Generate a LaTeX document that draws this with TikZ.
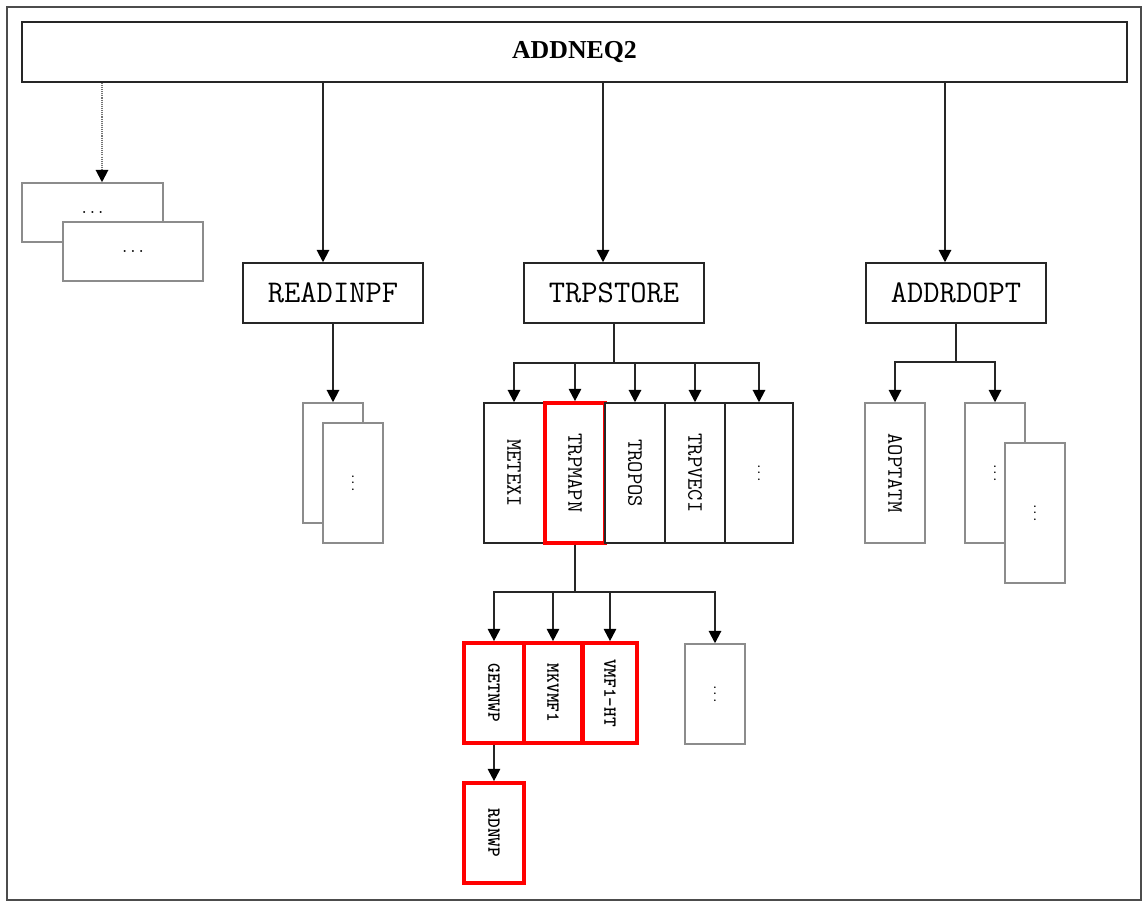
\documentclass[tikz,border=0pt]{standalone}
\usepackage{fontspec}
\usepackage{graphicx}
\setmainfont{Liberation Serif}
\usetikzlibrary{arrows.meta,positioning,calc}
\newcommand{\vtext}[1]{\rotatebox{-90}{#1}}

\begin{document}
\begin{tikzpicture}[
    x=0.02cm, y=-0.02cm,
    every node/.style={inner sep=0pt},
    box/.style={rectangle, draw=black!85, line width=0.85pt, fill=white,
                align=center, font=\ttfamily\fontsize{18}{18}\selectfont},
    tallbox/.style={box, minimum width=1.2cm, minimum height=2.8cm,
                    font=\ttfamily\fontsize{12.5}{12.5}\selectfont},
    greybox/.style={rectangle, draw=black!45, line width=0.85pt, fill=white,
                    font=\ttfamily\fontsize{9}{9}\selectfont},
    redbox/.style={rectangle, draw=red, line width=2.1pt, fill=white,
                   minimum width=1.2cm, minimum height=2cm,
                   font=\ttfamily\bfseries\fontsize{10.5}{10.5}\selectfont},
    arr/.style={draw=black!85, line width=1.1pt,
                -{Triangle[length=7pt,width=7pt,color=black]}},
]
\useasboundingbox (0,0) rectangle (1143,902);
\draw[black!70, line width=0.6pt] (7,7) rectangle (1141,900);

% Top level
\node[box, minimum width=22.1cm, minimum height=1.2cm,
      font=\bfseries\fontsize{14.7}{14.7}\selectfont] (addneq) at (574.5,52) {ADDNEQ2};

% Left stack
\node[greybox, minimum width=2.82cm, minimum height=1.18cm] (lbA) at (92.5,212.5) {...};
\node[greybox, minimum width=2.8cm, minimum height=1.18cm] (lbB) at (133,251.5) {...};

% Second level
\node[box, minimum width=3.6cm, minimum height=1.2cm] (readinpf) at (333,293) {READINPF};
\node[box, minimum width=3.6cm, minimum height=1.2cm] (trpstore) at (614,293) {TRPSTORE};
\node[box, minimum width=3.6cm, minimum height=1.2cm] (addrdopt) at (956,293) {ADDRDOPT};

% Under READINPF
\node[greybox, minimum width=1.2cm, minimum height=2.4cm] (rA) at (333,463) {};
\node[greybox, minimum width=1.2cm, minimum height=2.4cm,
      font=\ttfamily\fontsize{7}{7}\selectfont] (rB) at (353,483) {\vtext{...}};

% Under TRPSTORE
\node[tallbox] (metexi) at (514,473) {\vtext{METEXI}};
\node[tallbox, draw=red, line width=2.1pt] (trpmap) at (575,473) {\vtext{TRPMAPN}};
\node[tallbox] (tropos) at (635,473) {\vtext{TROPOS}};
\node[tallbox] (trpvec) at (695,473) {\vtext{TRPVECI}};
\node[tallbox, minimum width=1.36cm,
      font=\ttfamily\fontsize{7}{7}\selectfont] (rdots) at (759,473) {\vtext{...}};

% Under TRPMAPN
\node[redbox] (getnwp) at (494,693) {\vtext{GETNWP}};
\node[redbox, minimum width=1.16cm] (mkvmf) at (553,693) {\vtext{MKVMF1}};
\node[redbox, minimum width=1.08cm] (vmfht) at (610,693) {\vtext{VMF1-HT}};
\node[greybox, minimum width=1.2cm, minimum height=2cm,
      font=\ttfamily\fontsize{7}{7}\selectfont] (sdots) at (715,694) {\vtext{...}};
\node[redbox] (rdnwp) at (494,833) {\vtext{RDNWP}};

% Under ADDRDOPT
\node[greybox, minimum width=1.2cm, minimum height=2.8cm,
      font=\ttfamily\fontsize{12.5}{12.5}\selectfont] (aoptatm) at (895,473) {\vtext{AOPTATM}};
\node[greybox, minimum width=1.2cm, minimum height=2.8cm,
      font=\ttfamily\fontsize{7}{7}\selectfont] (aA) at (995,473) {\vtext{...}};
\node[greybox, minimum width=1.2cm, minimum height=2.8cm,
      font=\ttfamily\fontsize{7}{7}\selectfont] (aB) at (1035,513) {\vtext{...}};

% Arrows from ADDNEQ2
\draw[arr, draw=black!55, dash pattern=on 0.6pt off 0.6pt] ([xshift=0.19cm]lbA.north |- addneq.south) -- ([xshift=0.19cm]lbA.north);
\draw[arr] ([xshift=-0.2cm]readinpf.north |- addneq.south) -- ([xshift=-0.2cm]readinpf.north);
\draw[arr] ([xshift=-0.22cm]trpstore.north |- addneq.south) -- ([xshift=-0.22cm]trpstore.north);
\draw[arr] ([xshift=-0.22cm]addrdopt.north |- addneq.south) -- ([xshift=-0.22cm]addrdopt.north);

% Second level arrows
\draw[arr] (readinpf.south) -- (rA.north);
\foreach \n in {metexi,trpmap,tropos,trpvec,rdots}
  \draw[arr] (trpstore.south) -- ++(0,-0.78cm) -| (\n.north);
\foreach \n in {getnwp,mkvmf,vmfht,sdots}
  \draw[arr] (trpmap.south) -- ++(0,-0.94cm) -| (\n.north);
\draw[arr] (getnwp.south) -- (rdnwp.north);
\foreach \n in {aoptatm,aA}
  \draw[arr] (addrdopt.south) -- ++(0,-0.76cm) -| (\n.north);

\end{tikzpicture}
\end{document}
